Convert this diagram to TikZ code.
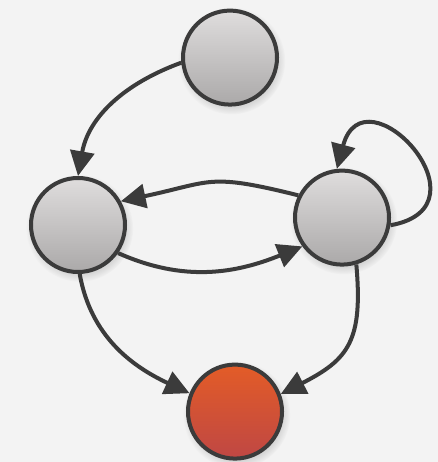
\documentclass[tikz,border=0pt]{standalone}
\usepackage{tikz}
\usetikzlibrary{arrows.meta,shadows}

\definecolor{bordo}{HTML}{3B3B3B}
\definecolor{grigiosu}{HTML}{DFDDDD}
\definecolor{grigiogiu}{HTML}{ABA9A9}
\definecolor{rossosu}{HTML}{E35C27}
\definecolor{rossogiu}{HTML}{BF4744}
\definecolor{sfondo}{HTML}{F3F3F3}

\begin{document}
\begin{tikzpicture}
\tikzstyle{stato} = [circle, draw=bordo, line width=2.85pt, minimum size=2.35cm, inner sep=0pt,
  top color=grigiosu, bottom color=grigiogiu,
  circular drop shadow={shadow xshift=1pt, shadow yshift=-2pt, shadow scale=1.14, opacity=0.25}]
\tikzstyle{finale} = [stato, top color=rossosu, bottom color=rossogiu]
\tikzstyle{arco} = [draw=bordo, line width=2.85pt, -{Triangle[length=0.62cm, width=0.6cm]}]
\fill[sfondo] (0,0) rectangle (10.95,11.55);
\useasboundingbox (0,0) rectangle (10.95,11.55);
\node[stato] (v1) at (5.75,10.11) {};
\node[stato] (v2) at (1.95,5.925) {};
\node[stato] (v3) at (8.55,6.11) {};
\node[finale] (v4) at (5.875,1.26) {};
\draw[arco] (v1.186) to[out=200, in=80] (v2.90);
\draw[arco] (v3.153) to[out=166, in=12, looseness=1.35] (v2.29);
\draw[arco] (v2.-35) to[out=-24, in=202] (v3.216);
%anello sul nodo di destra
\draw[arco] (v3.-9) to[out=10, in=75, distance=2.65cm] (v3.96);
\draw[arco] (v2.-88) to[out=-80, in=155] (v4.158);
\draw[arco] (v3.-73) to[out=-85, in=27, looseness=1.3] (v4.21);
\end{tikzpicture}
\end{document}
